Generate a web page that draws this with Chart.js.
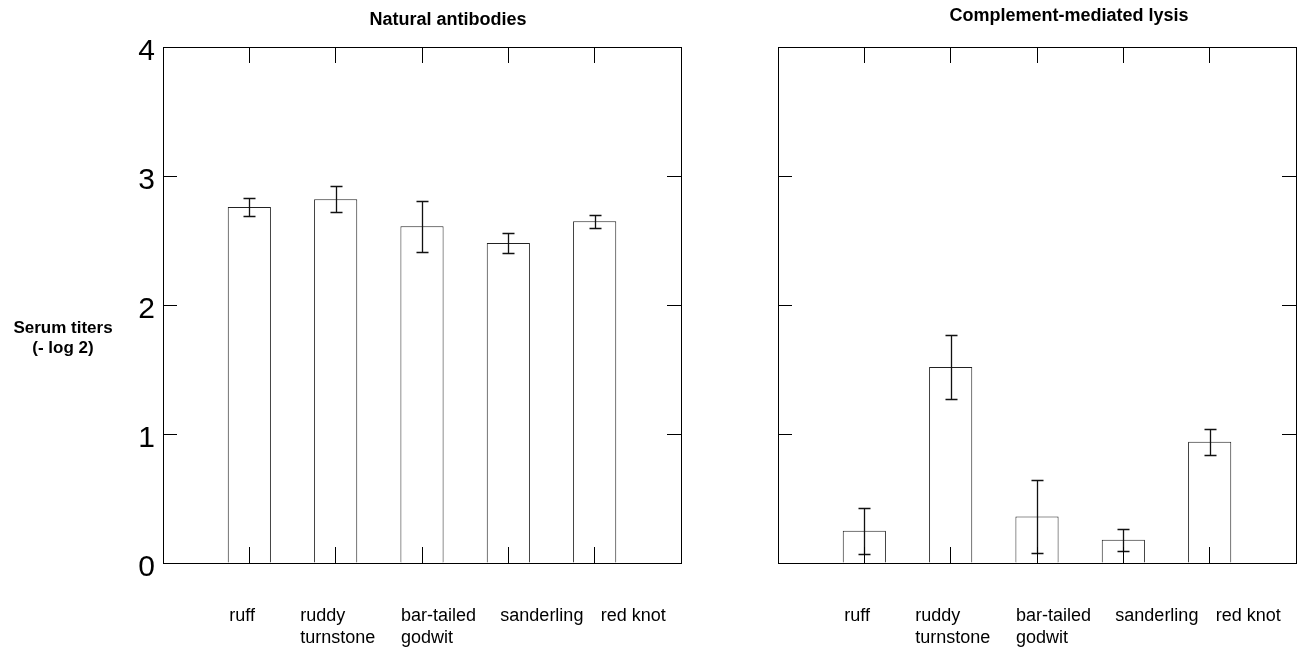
<!DOCTYPE html>
<html>
<head>
<meta charset="utf-8">
<script src="https://cdn.jsdelivr.net/npm/chart.js@4"></script>
<style>
  html, body { margin: 0; padding: 0; background: #fff; }
  #wrap { position: relative; width: 1302px; height: 652px; }
  #wrap canvas { position: absolute; top: 0; }
  #antibodies { left: 0; }
  #lysis { left: 730px; }
</style>
</head>
<body>
<div id="wrap">
  <canvas id="antibodies" width="730" height="652"></canvas>
  <canvas id="lysis" width="572" height="652"></canvas>
</div>
<script>
// Species (multi-line labels as arrays)
const species = ['ruff', ['ruddy', 'turnstone'], ['bar-tailed', 'godwit'], 'sanderling', 'red knot'];

// Natural antibody titers: mean and standard error
const antibodyTiters = [2.76, 2.82, 2.61, 2.48, 2.65];
const antibodyErrors = [0.07, 0.10, 0.20, 0.08, 0.05];

// Complement-mediated lysis titers: mean and standard error
const lysisTiters = [0.25, 1.52, 0.36, 0.18, 0.94];
const lysisErrors = [0.18, 0.245, 0.285, 0.085, 0.10];

// Shared value axis
const yTicks = [0, 1, 2, 3, 4];
const panelTitles = ['Natural antibodies', 'Complement-mediated lysis'];
const yAxisTitle = ['Serum titers', '(- log 2)'];

const FONT = '"Liberation Sans", Arial, Helvetica, sans-serif';
Chart.defaults.font.family = FONT;
Chart.defaults.color = '#000';

// Vertical error bars drawn from the dataset's values and errors
const errorBars = {
  id: 'errorBars',
  afterDatasetsDraw(chart) {
    const { ctx } = chart;
    const yScale = chart.scales.y;
    const ds = chart.data.datasets[0];
    const meta = chart.getDatasetMeta(0);
    ctx.save();
    ctx.strokeStyle = '#111';
    ctx.lineWidth = 1.3;
    ds.data.forEach((v, i) => {
      if (v === null) return;
      const e = ds.errors[i];
      const x = Math.round(meta.data[i].x) + 0.5;
      const yt = Math.round(yScale.getPixelForValue(v + e)) + 0.5;
      const yb = Math.round(yScale.getPixelForValue(v - e)) + 0.5;
      ctx.beginPath();
      ctx.moveTo(x, yt); ctx.lineTo(x, yb);
      ctx.moveTo(x - 6, yt); ctx.lineTo(x + 6, yt);
      ctx.moveTo(x - 6, yb); ctx.lineTo(x + 6, yb);
      ctx.stroke();
    });
    ctx.restore();
  }
};

// Panel title, category labels and (optionally) the value-axis title
const panelText = {
  id: 'panelText',
  afterDraw(chart, args, o) {
    const { ctx, chartArea } = chart;
    const xs = chart.scales.x;
    ctx.save();
    ctx.fillStyle = '#000';
    ctx.textBaseline = 'alphabetic';

    ctx.font = 'bold 18px ' + FONT;
    ctx.textAlign = 'center';
    ctx.fillText(o.title, chartArea.left + o.titleDx, o.titleY);

    ctx.font = '18px ' + FONT;
    ctx.textAlign = 'left';
    species.forEach((lab, i) => {
      const lines = [].concat(lab);
      const x0 = xs.getPixelForValue(i + 1) + o.labelShift[i];
      lines.forEach((t, j) => ctx.fillText(t, x0, o.labelY + j * o.lineGap));
    });

    if (o.yTitle) {
      ctx.font = 'bold 17px ' + FONT;
      ctx.textAlign = 'center';
      o.yTitle.forEach((t, j) => ctx.fillText(t, o.yTitleX, o.yTitleY + j * 20));
    }
    ctx.restore();
  }
};

function setTicks(scale) {
  scale.ticks = yTicks.map(v => ({ value: v }));
}

// Tick marks point into the plot; drawn after the bars so they stay visible
function frameGrid(len) {
  return { drawOnChartArea: false, offset: false, tickLength: len, color: '#000', lineWidth: 1, z: 1 };
}
const frameBorder = { color: '#000', width: 1, z: 1 };

function makePanel(canvasId, values, errors, cfg) {
  const labels = [''].concat(species, ['']);
  return new Chart(document.getElementById(canvasId), {
    type: 'bar',
    data: {
      labels,
      datasets: [{
        data: [null].concat(values, [null]),
        errors: [null].concat(errors, [null]),
        backgroundColor: '#fff',
        borderColor: '#222',
        borderWidth: 1,
        categoryPercentage: 1,
        barPercentage: 0.5
      }]
    },
    options: {
      responsive: false,
      animation: false,
      events: [],
      layout: { padding: 0, autoPadding: false },
      plugins: {
        legend: { display: false },
        tooltip: { enabled: false },
        panelText: cfg.text
      },
      scales: {
        x: {
          type: 'category', position: 'bottom', offset: false,
          grid: frameGrid(-16),
          border: frameBorder,
          ticks: { display: false },
          afterFit: s => { s.height = cfg.bottom; }
        },
        x2: {
          type: 'category', position: 'top', offset: false,
          grid: frameGrid(-16),
          border: frameBorder,
          ticks: { display: false },
          afterFit: s => { s.height = cfg.top; }
        },
        y: {
          type: 'linear', position: 'left', min: 0, max: 4,
          afterBuildTicks: setTicks,
          grid: frameGrid(-14),
          border: frameBorder,
          ticks: {
            display: cfg.showY,
            font: { size: 30, family: FONT },
            color: '#000',
            padding: 22,
            labelOffset: 5
          },
          afterFit: s => { s.width = cfg.left; }
        },
        y2: {
          type: 'linear', position: 'right', min: 0, max: 4,
          afterBuildTicks: setTicks,
          grid: frameGrid(-14),
          border: frameBorder,
          ticks: { display: false },
          afterFit: s => { s.width = cfg.right; }
        }
      }
    },
    plugins: [errorBars, panelText]
  });
}

const labelShift = [-20, -35.5, -21, -8, 6];

makePanel('antibodies', antibodyTiters, antibodyErrors, {
  left: 163, right: 49, top: 47, bottom: 89, showY: true,
  text: {
    title: panelTitles[0], titleDx: 285, titleY: 25,
    labelShift, labelY: 621, lineGap: 22,
    yTitle: yAxisTitle, yTitleX: 63, yTitleY: 333
  }
});

makePanel('lysis', lysisTiters, lysisErrors, {
  left: 48, right: 6, top: 47, bottom: 89, showY: false,
  text: {
    title: panelTitles[1], titleDx: 291, titleY: 21,
    labelShift, labelY: 621, lineGap: 22
  }
});
</script>
</body>
</html>
